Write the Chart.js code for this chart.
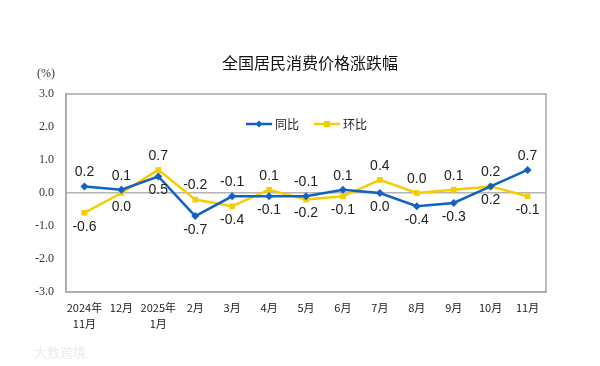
<!DOCTYPE html>
<html>
<head>
<meta charset="utf-8">
<script src="https://cdn.jsdelivr.net/npm/chart.js@4.4.1/dist/chart.umd.min.js"></script>
<style>
  html, body { margin: 0; padding: 0; background: #fff; }
  #wrap { width: 600px; height: 366px; position: relative; }
</style>
</head>
<body>
<div id="wrap"><canvas id="cpiChart"></canvas></div>
<script>
// data
const categories = [['2024年', '11月'], '12月', ['2025年', '1月'], '2月', '3月', '4月', '5月', '6月', '7月', '8月', '9月', '10月', '11月'];
const yoyValues = [0.2, 0.1, 0.5, -0.7, -0.1, -0.1, -0.1, 0.1, 0.0, -0.4, -0.3, 0.2, 0.7];
const momValues = [-0.6, 0.0, 0.7, -0.2, -0.4, 0.1, -0.2, -0.1, 0.4, 0.0, 0.1, 0.2, -0.1];
const yTicks = [-3, -2, -1, 0, 1, 2, 3];
// where each value label sits relative to its point
const yoyLabelPos = ['up', 'up', 'down', 'down', 'up', 'down', 'up', 'up', 'down', 'down', 'down', 'down', 'up'];
const momLabelPos = ['down', 'down', 'up', 'up', 'down', 'up', 'down', 'down', 'up', 'up', 'up', 'up', 'down'];

const BLUE = '#1462C0';
const YELLOW = '#F6CD00';
const AXIS_GRAY = '#A8A8A8';

const chartDecor = {
    id: 'chartDecor',
    afterDatasetsDraw(chart) {
        const ctx = chart.ctx;
        const area = chart.chartArea;
        ctx.save();

        // box round the plot
        ctx.strokeStyle = AXIS_GRAY;
        ctx.lineWidth = 1.5;
        ctx.strokeRect(area.left, area.top, area.right - area.left, area.bottom - area.top);

        // value labels
        ctx.fillStyle = '#222';
        ctx.font = '14px "Liberation Sans", Arial, sans-serif';
        ctx.textAlign = 'center';
        ctx.textBaseline = 'middle';
        const sets = [[0, yoyValues, yoyLabelPos], [1, momValues, momLabelPos]];
        sets.forEach(([idx, vals, pos]) => {
            const meta = chart.getDatasetMeta(idx);
            meta.data.forEach((pt, i) => {
                const dy = pos[i] === 'up' ? -14 : 14;
                ctx.fillText(vals[i].toFixed(1), pt.x, pt.y + dy);
            });
        });

        // title
        ctx.fillStyle = '#111';
        ctx.font = '16px "Noto Sans CJK SC", sans-serif';
        ctx.fillText('全国居民消费价格涨跌幅', 310, 63);

        // unit
        ctx.fillStyle = '#333';
        ctx.font = '12px "Liberation Serif", serif';
        ctx.fillText('(%)', 46, 74);

        // legend
        const ly = 124;
        ctx.lineWidth = 2.5;
        ctx.strokeStyle = BLUE;
        ctx.beginPath(); ctx.moveTo(246, ly); ctx.lineTo(272, ly); ctx.stroke();
        ctx.fillStyle = BLUE;
        ctx.beginPath();
        ctx.moveTo(259, ly - 3.5); ctx.lineTo(262.5, ly); ctx.lineTo(259, ly + 3.5); ctx.lineTo(255.5, ly);
        ctx.closePath(); ctx.fill();
        ctx.strokeStyle = YELLOW;
        ctx.beginPath(); ctx.moveTo(314, ly); ctx.lineTo(340, ly); ctx.stroke();
        ctx.fillStyle = YELLOW;
        ctx.fillRect(324, ly - 3, 6, 6);
        ctx.fillStyle = '#222';
        ctx.font = '12px "Noto Sans CJK SC", sans-serif';
        ctx.textAlign = 'left';
        ctx.fillText('同比', 275, ly);
        ctx.fillText('环比', 343, ly);

        // faint watermark
        ctx.fillStyle = 'rgba(150,150,150,0.2)';
        ctx.font = '13px "Noto Sans CJK SC", sans-serif';
        ctx.fillText('大数跨境', 34, 352);

        ctx.restore();
    }
};

new Chart(document.getElementById('cpiChart').getContext('2d'), {
    type: 'line',
    data: {
        labels: categories,
        datasets: [{
            label: '同比',
            data: yoyValues,
            borderColor: BLUE,
            backgroundColor: BLUE,
            borderWidth: 2.5,
            pointStyle: 'rectRot',
            pointRadius: 4,
            pointBorderWidth: 0,
            tension: 0
        }, {
            label: '环比',
            data: momValues,
            borderColor: YELLOW,
            backgroundColor: YELLOW,
            borderWidth: 2.5,
            pointStyle: 'rect',
            pointRadius: 4,
            pointBorderWidth: 0,
            tension: 0
        }]
    },
    options: {
        responsive: true,
        maintainAspectRatio: false,
        animation: false,
        layout: { padding: { left: 0, right: 54, top: 94, bottom: 30 } },
        plugins: {
            legend: { display: false },
            tooltip: { enabled: false }
        },
        scales: {
            x: {
                offset: true,
                grid: { display: false, drawTicks: false },
                border: { color: AXIS_GRAY, width: 1.5 },
                ticks: {
                    color: '#222',
                    padding: 8,
                    maxRotation: 0,
                    autoSkip: false,
                    font: { family: '"Noto Sans CJK SC", sans-serif', size: 11, lineHeight: 1.45 }
                },
                afterFit(scale) { scale.height = 44; }
            },
            y: {
                min: -3,
                max: 3,
                afterBuildTicks(scale) { scale.ticks = yTicks.map(v => ({ value: v })); },
                grid: {
                    drawTicks: false,
                    color: c => (c.tick && c.tick.value === 0 ? '#B4B4B4' : 'rgba(0,0,0,0)'),
                    lineWidth: 1.5
                },
                border: { color: AXIS_GRAY, width: 1.5 },
                ticks: {
                    color: '#333',
                    padding: 12,
                    font: { family: '"Liberation Serif", serif', size: 12 },
                    callback: v => v.toFixed(1)
                },
                afterFit(scale) { scale.width = 66; }
            }
        }
    },
    plugins: [chartDecor]
});
</script>
</body>
</html>
